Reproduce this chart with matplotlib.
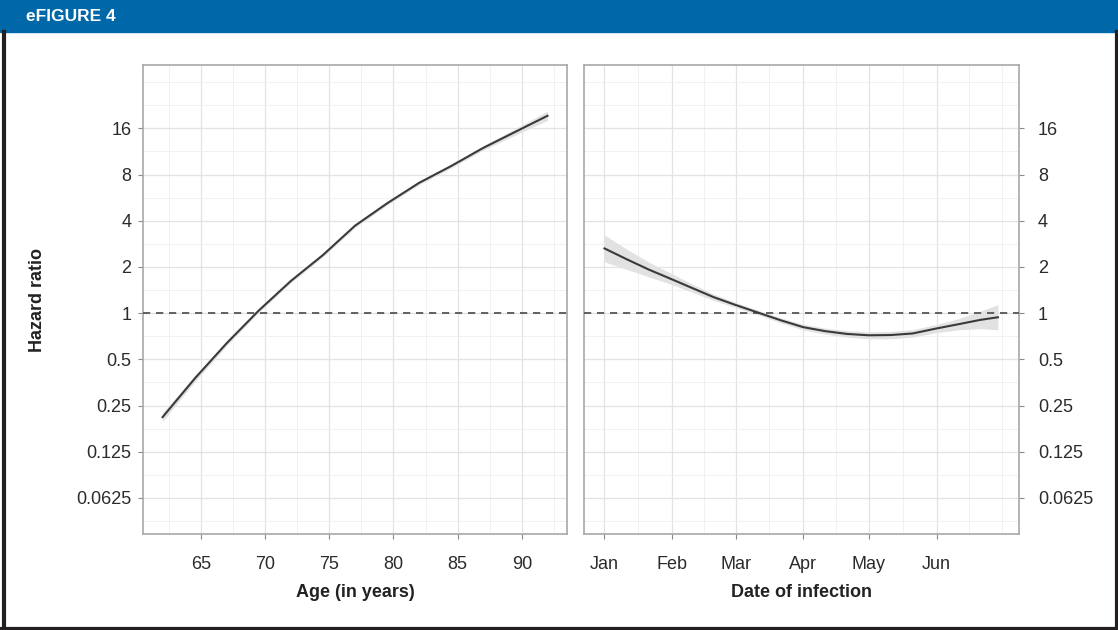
import matplotlib
matplotlib.use("Agg")
import matplotlib.pyplot as plt
from matplotlib.patches import Rectangle
from matplotlib.lines import Line2D
from matplotlib.ticker import FixedLocator, NullFormatter

plt.rcParams['font.family'] = ['Liberation Sans Narrow', 'Liberation Sans', 'DejaVu Sans']

# age panel
age = [62, 64.5, 67, 69.5, 72, 74.5, 77, 79.5, 82, 84.5, 87, 89.5, 92]
hr_age = [0.21, 0.374, 0.637, 1.04, 1.62, 2.39, 3.71, 5.19, 7.06, 9.09, 11.93, 15.18, 19.3]
lo_age = [0.197, 0.356, 0.615, 1.012, 1.576, 2.325, 3.61, 5.05, 6.87, 8.84, 11.53, 14.46, 18.0]
hi_age = [0.224, 0.392, 0.66, 1.069, 1.665, 2.457, 3.81, 5.34, 7.26, 9.34, 12.35, 15.93, 20.7]

# date panel (days since 1 Jan)
day = [0, 10, 20, 30, 40, 50, 60, 71, 81, 91, 101, 111, 121, 131, 141, 152, 162, 172, 180]
hr_day = [2.64, 2.25, 1.93, 1.68, 1.46, 1.27, 1.13, 1.0, 0.895, 0.81, 0.763, 0.732, 0.717,
          0.72, 0.737, 0.795, 0.847, 0.904, 0.94]
lo_day = [2.16, 1.93, 1.73, 1.55, 1.37, 1.21, 1.088, 0.966, 0.861, 0.777, 0.729, 0.697, 0.681,
          0.681, 0.697, 0.747, 0.779, 0.792, 0.779]
hi_day = [3.23, 2.62, 2.16, 1.83, 1.55, 1.33, 1.174, 1.035, 0.930, 0.845, 0.798, 0.769, 0.755,
          0.761, 0.779, 0.846, 0.921, 1.031, 1.134]

hr_ticks = [0.0625, 0.125, 0.25, 0.5, 1, 2, 4, 8, 16]
hr_labels = ['0.0625', '0.125', '0.25', '0.5', '1', '2', '4', '8', '16']
age_ticks = [65, 70, 75, 80, 85, 90]
month_days = [0, 31, 60, 91, 121, 152]
month_labels = ['Jan', 'Feb', 'Mar', 'Apr', 'May', 'Jun']

W, H = 1118, 630
fig = plt.figure(figsize=(W / 100, H / 100), dpi=100)

# header band and frame
fig.patches.append(Rectangle((0, 1 - 32 / H), 1, 32 / H, transform=fig.transFigure,
                             color='#0067a9', zorder=0))
fig.text(26 / W, 1 - 16.5 / H, 'eFIGURE 4', color='white', fontsize=12.5,
         fontweight='bold', va='center', ha='left', family=['Liberation Sans', 'DejaVu Sans'])
frame = dict(color='#231f20', lw=3, transform=fig.transFigure)
fig.add_artist(Line2D([4 / W, 4 / W], [1 - 32 / H, 1.5 / H], **frame))
fig.add_artist(Line2D([1116.5 / W, 1116.5 / W], [1 - 32 / H, 1.5 / H], **frame))
fig.add_artist(Line2D([0, 1], [1.5 / H, 1.5 / H], **frame))

y0 = 1 - 534 / H
ph = (534 - 65) / H
ax1 = fig.add_axes([143.3 / W, y0, (566.7 - 143.3) / W, ph])
ax2 = fig.add_axes([583.5 / W, y0, (1019.3 - 583.5) / W, ph])

ymin, ymax = 2 ** -4.78, 2 ** 5.37
minor_y = [2 ** (k / 2) for k in range(-9, 11, 2)] + [32]

for ax in (ax1, ax2):
    ax.set_yscale('log', base=2)
    ax.set_ylim(ymin, ymax)
    ax.yaxis.set_major_locator(FixedLocator(hr_ticks))
    ax.set_yticklabels(hr_labels)
    ax.yaxis.set_minor_locator(FixedLocator(minor_y))
    ax.yaxis.set_minor_formatter(NullFormatter())
    ax.grid(True, which='major', color='#e3e3e3', lw=0.9, zorder=0)
    ax.grid(True, which='minor', color='#efefef', lw=0.6, zorder=0)
    ax.tick_params(which='major', length=3.5, width=0.8, color='#888888',
                   labelsize=13, labelcolor='#2b2b2b')
    ax.tick_params(which='minor', length=0)
    ax.tick_params(axis='x', pad=12)
    for s in ax.spines.values():
        s.set_color('#a8a8a8')
        s.set_linewidth(1.2)
    ax.axhline(1, color='#555555', lw=1.3, ls=(0, (4, 3.2)), zorder=3)
    ax.set_axisbelow(True)

# left: age
ax1.fill_between(age, lo_age, hi_age, color='#e2e2e2', lw=0, zorder=2)
ax1.plot(age, hr_age, color='#3a3a3a', lw=1.5, zorder=4)
ax1.set_xlim(60.5, 93.5)
ax1.set_xticks(age_ticks)
ax1.xaxis.set_minor_locator(FixedLocator([62.5, 67.5, 72.5, 77.5, 82.5, 87.5, 92.5]))
ax1.tick_params(axis='y', pad=5)
ax1.set_xlabel('Age (in years)', fontsize=13, fontweight='bold', labelpad=8, color='#222222')
ax1.set_ylabel('Hazard ratio', fontsize=13, fontweight='bold', labelpad=22, color='#222222')

# right: date of infection
ax2.fill_between(day, lo_day, hi_day, color='#e2e2e2', lw=0, zorder=2)
ax2.plot(day, hr_day, color='#3a3a3a', lw=1.5, zorder=4)
ax2.set_xlim(-9.6, 189.8)
ax2.set_xticks(month_days)
ax2.set_xticklabels(month_labels)
ax2.xaxis.set_minor_locator(FixedLocator([15.5, 45.5, 75.5, 106, 136.5, 167, 182]))
ax2.yaxis.tick_right()
ax2.tick_params(axis='y', pad=10)
ax2.set_xlabel('Date of infection', fontsize=13, fontweight='bold', labelpad=8, color='#222222')

fig.savefig('out.png', dpi=100)
